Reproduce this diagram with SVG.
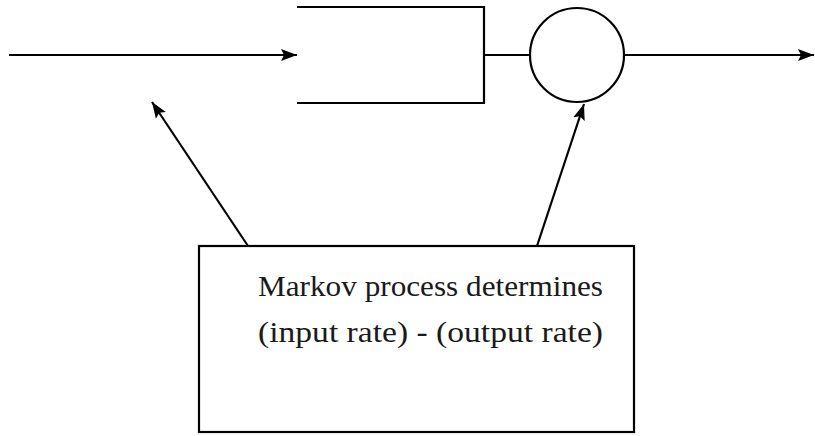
<svg xmlns="http://www.w3.org/2000/svg" width="815" height="436" viewBox="0 0 815 436">
  <style>
    .ln { stroke: #000; stroke-width: 2.2; fill: none; }
    .lbl { font-family: "Liberation Serif", "DejaVu Serif", serif; font-size: 30px; fill: #1a1a1a; }
  </style>
  <defs>
    <marker id="arrow" markerUnits="userSpaceOnUse" markerWidth="18" markerHeight="14" refX="16" refY="7" orient="auto">
      <path d="M0,1 L16,7 L0,13 L3,7 Z" fill="#000"/>
    </marker>
  </defs>
  <rect width="815" height="436" fill="#fff"/>

  <!-- queue buffer: open on the left -->
  <g id="queue">
    <path class="ln" d="M297,7 H484 V103 H297"/>
  </g>

  <!-- server -->
  <g id="server">
    <circle class="ln" cx="577" cy="55" r="47"/>
  </g>

  <!-- control process box -->
  <g id="markov">
    <rect class="ln" x="199" y="246" width="435" height="186"/>
    <text class="lbl" x="258" y="296" textLength="345" lengthAdjust="spacingAndGlyphs">Markov process determines</text>
    <text class="lbl" x="258" y="342" textLength="345" lengthAdjust="spacingAndGlyphs">(input rate) - (output rate)</text>
  </g>

  <g id="connectors">
    <line class="ln" x1="9" y1="55" x2="297" y2="55" marker-end="url(#arrow)"/>
    <line class="ln" x1="484" y1="55" x2="530" y2="55"/>
    <line class="ln" x1="624" y1="55" x2="814" y2="55" marker-end="url(#arrow)"/>
    <line class="ln" x1="248" y1="246" x2="152" y2="102" marker-end="url(#arrow)"/>
    <line class="ln" x1="537" y1="246" x2="584" y2="104" marker-end="url(#arrow)"/>
  </g>
</svg>
